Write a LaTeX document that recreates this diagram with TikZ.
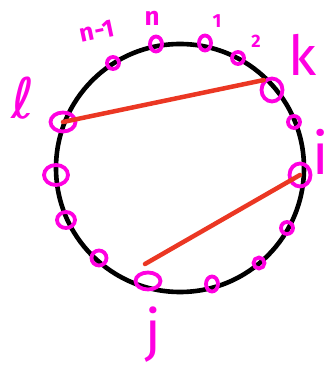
\documentclass[tikz,border=0pt]{standalone}
\usepackage{fontspec}
\setmainfont{Fira Sans}
\newfontfamily\dejavu{DejaVu Sans}
\usetikzlibrary{shapes.geometric,calc}
\definecolor{mag}{RGB}{255,0,225}
\definecolor{redl}{RGB}{235,55,35}
\begin{document}
\begin{tikzpicture}[x=1pt,y=1pt,
  dot/.style={draw=mag,line width=3.8pt,ellipse,inner sep=0pt,minimum width=12pt,minimum height=12pt},
  lab/.style={text=mag,inner sep=0pt},
  chord/.style={draw=redl,line width=4.5pt,line cap=round}]
\useasboundingbox (0,0) rectangle (331,367);
\draw[line width=4.6pt] (180,199) circle[radius=124pt];
% points on the circle
\node[dot] (pn1) at (113,304) {};
\node[dot,minimum height=15pt] (pn) at (156,323) {};
\node[dot,minimum height=15pt] (p1) at (205,324) {};
\node[dot] (p2) at (238,309) {};
\node[dot,minimum width=21pt,minimum height=23pt] (pk) at (272,277) {};
\node[dot] (pa) at (294,245) {};
\node[dot,minimum width=21pt,minimum height=23pt] (pi) at (300,192) {};
\node[dot] (pb) at (287,139) {};
\node[dot,minimum width=11pt,minimum height=11pt] (pc) at (259,104) {};
\node[dot,minimum width=12pt,minimum height=15pt] (pd) at (212,83) {};
\node[dot,minimum width=25pt,minimum height=17pt] (pj) at (148,86) {};
\node[dot,minimum width=15pt,minimum height=15pt] (pe) at (99,109) {};
\node[dot,minimum width=18pt,minimum height=16pt] (pf) at (66,147) {};
\node[dot,minimum width=24pt,minimum height=20pt] (pg) at (56,192) {};
\node[dot,minimum width=25pt,minimum height=19pt] (pl) at (63,245) {};
% chords
\coordinate (jend) at (145,103);
\draw[chord] (pl.center) -- (pk.130);
\draw[chord] (jend) -- (pi.center);
% labels
\node[lab,font=\bfseries\fontsize{25}{25}\selectfont,rotate=12] (tn1) at (97,336) {n-1};
\node[lab,font=\bfseries\fontsize{26}{26}\selectfont] (tn) at (152,349) {n};
\node[lab,font=\bfseries\fontsize{19}{19}\selectfont] (t1) at (217,346) {1};
\node[lab,font=\bfseries\fontsize{18}{18}\selectfont] (t2) at (256,326) {2};
\node[lab,font=\fontsize{55}{55}\selectfont] (tk) at (303,312) {k};
\node[lab,font=\dejavu\fontsize{56}{56}\selectfont] (tl) at (23,269) {ℓ};
\node[lab,font=\fontsize{58}{58}\selectfont] (ti) at (321,215) {i};
\node[lab,font=\fontsize{56}{56}\selectfont] (tj) at (153,32) {j};
\end{tikzpicture}
\end{document}
